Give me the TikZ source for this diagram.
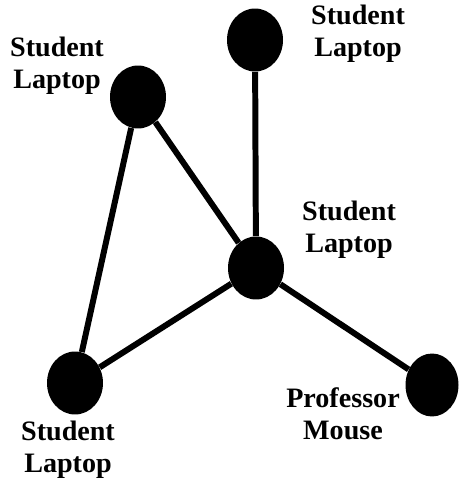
\documentclass[tikz,border=0pt]{standalone}
\usepackage{fontspec}
\setmainfont{Liberation Serif}
\usetikzlibrary{shapes.geometric}

\begin{document}
\begin{tikzpicture}[x=0.02cm,y=-0.02cm,
    hoststyle/.style={ellipse,fill=black,draw=none,minimum width=1.12cm,minimum height=1.26cm,inner sep=0pt},
    linkstyle/.style={line width=3.4pt},
    labelstyle/.style={align=center,font=\bfseries\fontsize{16}{18.2}\selectfont,inner sep=0pt}]
    \useasboundingbox (0,0) rectangle (458,479);
    % hosts
    \node[hoststyle] (top) at (255,40) {};
    \node[hoststyle] (upleft) at (138,97) {};
    \node[hoststyle] (hub) at (256,268) {};
    \node[hoststyle] (botleft) at (75,383) {};
    \node[hoststyle,minimum width=1.06cm] (prof) at (432,385) {};
    % links
    \draw[linkstyle] (upleft) -- (hub);
    \draw[linkstyle] (upleft) -- (botleft);
    \draw[linkstyle] (top) -- (hub);
    \draw[linkstyle] (hub) -- (botleft);
    \draw[linkstyle] (hub) -- (prof);
    % labels
    \node[labelstyle] (toplabel) at (358,34) {Student\\Laptop};
    \node[labelstyle] (upleftlabel) at (57,66) {Student\\Laptop};
    \node[labelstyle] (hublabel) at (349,230) {Student\\Laptop};
    \node[labelstyle] (botleftlabel) at (68,450) {Student\\Laptop};
    \node[labelstyle] (proflabel) at (343,414) {Professor\\Mouse};
\end{tikzpicture}
\end{document}
